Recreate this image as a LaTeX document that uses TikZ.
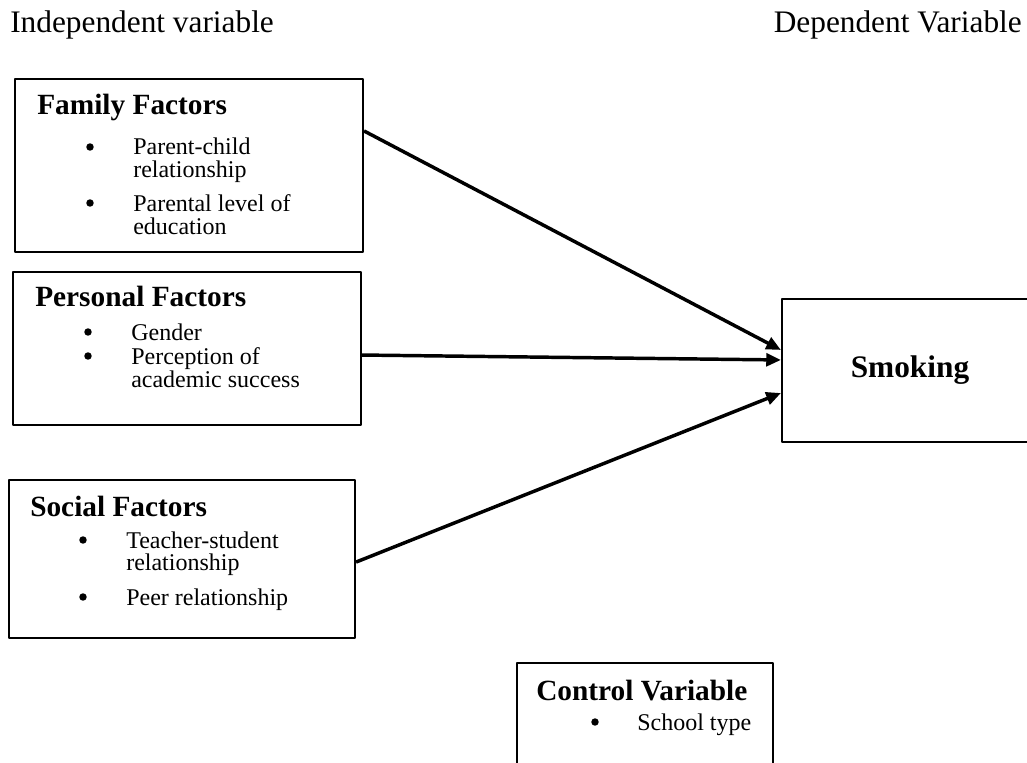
\documentclass[tikz,border=0pt]{standalone}
\usepackage{fontspec}
\setmainfont{Liberation Serif}
\usetikzlibrary{arrows.meta,fit}
\begin{document}
\begin{tikzpicture}[x=0.75pt, y=-0.75pt, line join=round,
	box/.style={draw, line width=1.6pt, inner sep=0pt},
	head/.style={anchor=base west, inner sep=0pt, font=\fontsize{22}{26}\selectfont\bfseries},
	item/.style={anchor=base west, inner sep=0pt, font=\fontsize{18}{22}\selectfont},
	dot/.style={circle, fill, inner sep=0pt, minimum size=5.6pt},
	toplabel/.style={inner sep=0pt, font=\fontsize{23.5}{28}\selectfont},
	arr/.style={line width=2.6pt, -{Triangle[length=11pt,width=9.5pt]}}]
	\clip (0,0) rectangle (1027,763);
	\node[toplabel, anchor=base west] (indep) at (10,33) {Independent variable};
	\node[toplabel, anchor=base east] (dep) at (1022,33) {Dependent Variable};
	% family
	\node[box, fit={(15,79) (363,252)}] (family) {};
	\node[head] (famT) at (37,115) {Family Factors};
	\node[dot] at (90,147) {};
	\node[item] at (133,155) {Parent-child};
	\node[item] at (133,177) {relationship};
	\node[dot] at (90,203) {};
	\node[item] at (133,211) {Parental level of};
	\node[item] at (133,234) {education};
	% personal
	\node[box, fit={(13,272) (361,425)}] (personal) {};
	\node[head] (perT) at (35,306) {Personal Factors};
	\node[dot] at (88,332) {};
	\node[item] at (131,340) {Gender};
	\node[dot] at (88,356) {};
	\node[item] at (131,364) {Perception of};
	\node[item] at (131,387) {academic success};
	% social
	\node[box, fit={(9,480) (355,638)}] (social) {};
	\node[head] (socT) at (30,516) {Social Factors};
	\node[dot] at (83,540) {};
	\node[item] at (126,548) {Teacher-student};
	\node[item] at (126,570) {relationship};
	\node[dot] at (83,597) {};
	\node[item] at (126,605) {Peer relationship};
	% dependent
	\node[box, fit={(782,299) (1038,442)}] (smoking) {};
	\node[anchor=base, inner sep=0pt, font=\fontsize{23.5}{28}\selectfont\bfseries] (smokT) at (910,377) {Smoking};
	% control
	\node[box, fit={(517,663) (773,800)}] (control) {};
	\node[head] (conT) at (536,700) {Control Variable};
	\node[dot] at (595,722) {};
	\node[item] at (637,730) {School type};
	\draw[arr] ([yshift=25.9pt]family.east) -- ([yshift=15.4pt]smoking.west);
	\draw[arr] ([yshift=-4.9pt]personal.east) -- ([yshift=7.9pt]smoking.west);
	\draw[arr] ([yshift=-2.3pt]social.east) -- ([yshift=-16.9pt]smoking.west);
\end{tikzpicture}
\end{document}
